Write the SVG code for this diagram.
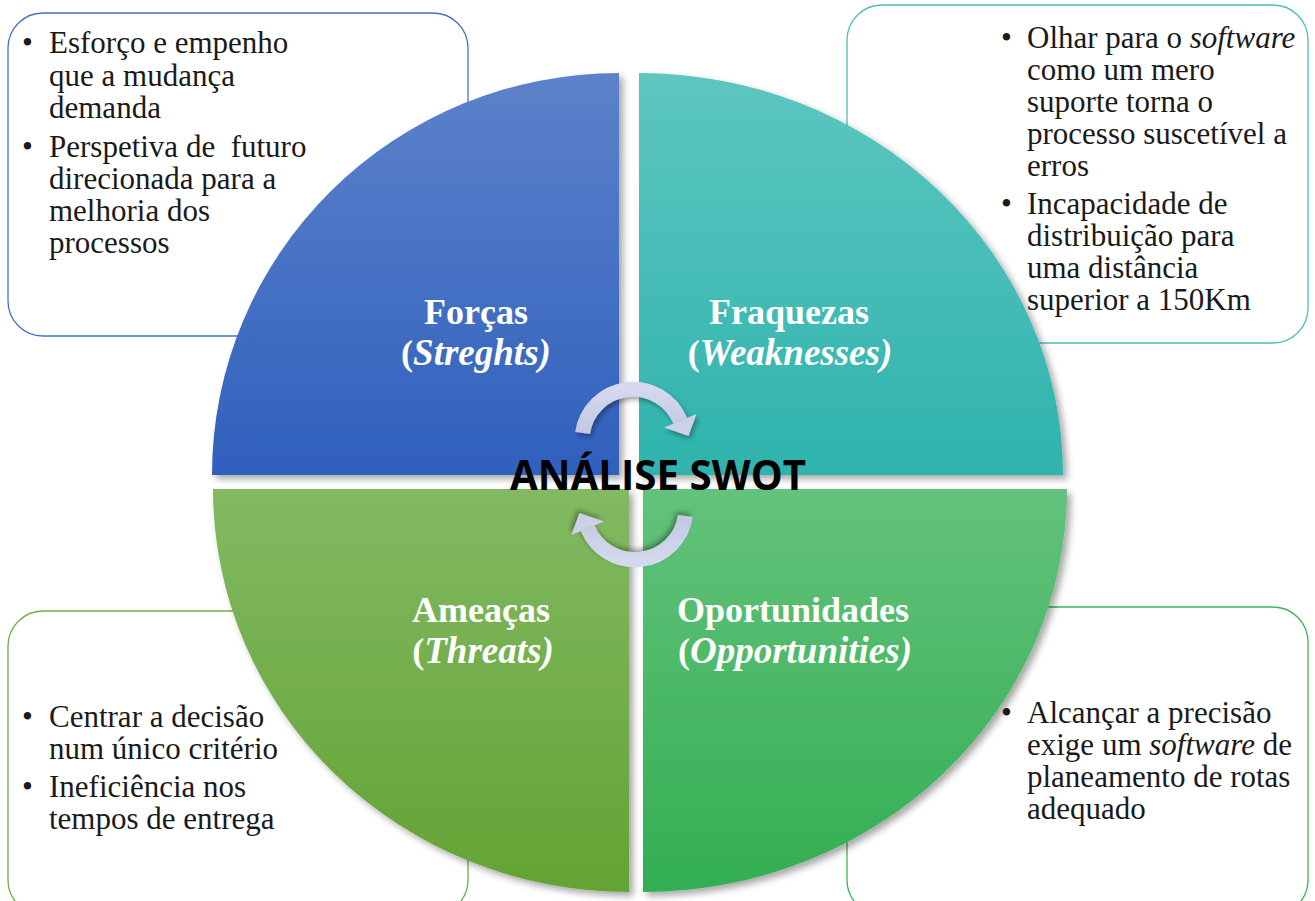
<svg xmlns="http://www.w3.org/2000/svg" width="1315" height="901" viewBox="0 0 1315 901">
<defs>
<style>
.box{fill:#ffffff;stroke-width:1.3}
.txt{font-family:"Liberation Serif","Times New Roman",serif;font-size:31px;fill:#1a1a1a}
.ttl{font-family:"Liberation Serif","Times New Roman",serif;font-size:36px;font-weight:bold;fill:#ffffff;text-anchor:middle}
.it{font-style:italic}
.ttl .it{font-size:37px}
.center{font-family:"Open Sans","DejaVu Sans",sans-serif;font-size:41px;font-weight:bold;fill:#000000;text-anchor:middle}
.arr{fill:none;stroke:url(#gArr);stroke-width:15}
</style>
<linearGradient id="gBlue" x1="0" y1="0" x2="0" y2="1"><stop offset="0" stop-color="#5d82ca"/><stop offset="1" stop-color="#2f60bd"/></linearGradient>
<linearGradient id="gTeal" x1="0" y1="0" x2="0" y2="1"><stop offset="0" stop-color="#5dc6c0"/><stop offset="1" stop-color="#2fb3ad"/></linearGradient>
<linearGradient id="gLime" x1="0" y1="0" x2="0" y2="1"><stop offset="0" stop-color="#82b963"/><stop offset="1" stop-color="#63a333"/></linearGradient>
<linearGradient id="gGreen" x1="0" y1="0" x2="0" y2="1"><stop offset="0" stop-color="#63c27c"/><stop offset="1" stop-color="#32ae52"/></linearGradient>
<linearGradient id="gArr" x1="0" y1="0" x2="0" y2="1"><stop offset="0" stop-color="#d5d9ee"/><stop offset="1" stop-color="#c2c7e2"/></linearGradient>
<filter id="sh" x="-10%" y="-10%" width="125%" height="125%"><feDropShadow dx="4" dy="4" stdDeviation="3.5" flood-color="#000000" flood-opacity="0.35"/></filter>
<filter id="shA" x="-20%" y="-20%" width="150%" height="150%"><feDropShadow dx="2" dy="3" stdDeviation="2.5" flood-color="#000000" flood-opacity="0.35"/></filter>
</defs>

<g id="box-strengths">
<rect class="box" x="8" y="13" width="460" height="323" rx="35" stroke="#4472c4"/>
<text class="txt" x="22" y="53">•</text>
<text class="txt" x="49" y="53">Esforço e empenho</text>
<text class="txt" x="49" y="86">que a mudança</text>
<text class="txt" x="49" y="118">demanda</text>
<text class="txt" x="22" y="157">•</text>
<text class="txt" x="49" y="157" xml:space="preserve">Perspetiva de  futuro</text>
<text class="txt" x="49" y="189">direcionada para a</text>
<text class="txt" x="49" y="221">melhoria dos</text>
<text class="txt" x="49" y="253">processos</text>
</g>

<g id="box-weaknesses">
<rect class="box" x="847" y="5" width="461" height="338" rx="35" stroke="#4cbfb8"/>
<text class="txt" x="1001" y="48">•</text>
<text class="txt" x="1027" y="48">Olhar para o <tspan class="it">software</tspan></text>
<text class="txt" x="1027" y="80">como um mero</text>
<text class="txt" x="1027" y="112">suporte torna o</text>
<text class="txt" x="1027" y="144">processo suscetível a</text>
<text class="txt" x="1027" y="176">erros</text>
<text class="txt" x="1001" y="214">•</text>
<text class="txt" x="1027" y="214">Incapacidade de</text>
<text class="txt" x="1027" y="246">distribuição para</text>
<text class="txt" x="1027" y="278">uma distância</text>
<text class="txt" x="1027" y="310">superior a 150Km</text>
</g>

<g id="box-threats">
<rect class="box" x="8" y="611" width="460" height="304" rx="35" stroke="#70ad47"/>
<text class="txt" x="22" y="727">•</text>
<text class="txt" x="49" y="727">Centrar a decisão</text>
<text class="txt" x="49" y="759">num único critério</text>
<text class="txt" x="22" y="797">•</text>
<text class="txt" x="49" y="797">Ineficiência nos</text>
<text class="txt" x="49" y="829">tempos de entrega</text>
</g>

<g id="box-opportunities">
<rect class="box" x="847" y="607" width="461" height="308" rx="35" stroke="#3db55b"/>
<text class="txt" x="1001" y="723">•</text>
<text class="txt" x="1027" y="723">Alcançar a precisão</text>
<text class="txt" x="1027" y="755">exige um <tspan class="it">software</tspan> de</text>
<text class="txt" x="1027" y="787">planeamento de rotas</text>
<text class="txt" x="1027" y="819">adequado</text>
</g>

<g id="q-forcas">
<path d="M619,475 L212,475 A407,402 0 0 1 619,73 Z" fill="url(#gBlue)" filter="url(#sh)"/>
<text class="ttl" x="476" y="324">Forças</text>
<text class="ttl" x="476" y="365">(<tspan class="it">Streghts)</tspan></text>
</g>

<g id="q-fraquezas">
<path d="M639,475 L639,73 A424,402 0 0 1 1063,475 Z" fill="url(#gTeal)" filter="url(#sh)"/>
<text class="ttl" x="789" y="324">Fraquezas</text>
<text class="ttl" x="790" y="365">(<tspan class="it">Weaknesses)</tspan></text>
</g>

<g id="q-ameacas">
<path d="M629,489 L629,892 A416,403 0 0 1 213,489 Z" fill="url(#gLime)" filter="url(#sh)"/>
<text class="ttl" x="481" y="622">Ameaças</text>
<text class="ttl" x="483" y="663">(<tspan class="it">Threats)</tspan></text>
</g>

<g id="q-oportunidades">
<path d="M643,489 L1067,489 A424,403 0 0 1 643,892 Z" fill="url(#gGreen)" filter="url(#sh)"/>
<text class="ttl" x="793" y="622">Oportunidades</text>
<text class="ttl" x="795" y="663">(<tspan class="it">Opportunities)</tspan></text>
</g>

<g id="connectors">
<g id="arrow-top" filter="url(#shA)">
<path class="arr" d="M582.6,433 A51,51 0 0 1 680.3,420.9"/>
<polygon points="696.5,414 664,427.5 688.5,436" fill="#ccd1e8"/>
</g>
<g id="arrow-bottom" filter="url(#shA)" transform="rotate(180 634 474.5)">
<path class="arr" d="M582.6,433 A51,51 0 0 1 680.3,420.9"/>
<polygon points="696.5,414 664,427.5 688.5,436" fill="#ccd1e8"/>
</g>
</g>

<g id="center-title">
<text class="center" x="658" y="490" textLength="296" lengthAdjust="spacingAndGlyphs">ANÁLISE SWOT</text>
</g>
</svg>
